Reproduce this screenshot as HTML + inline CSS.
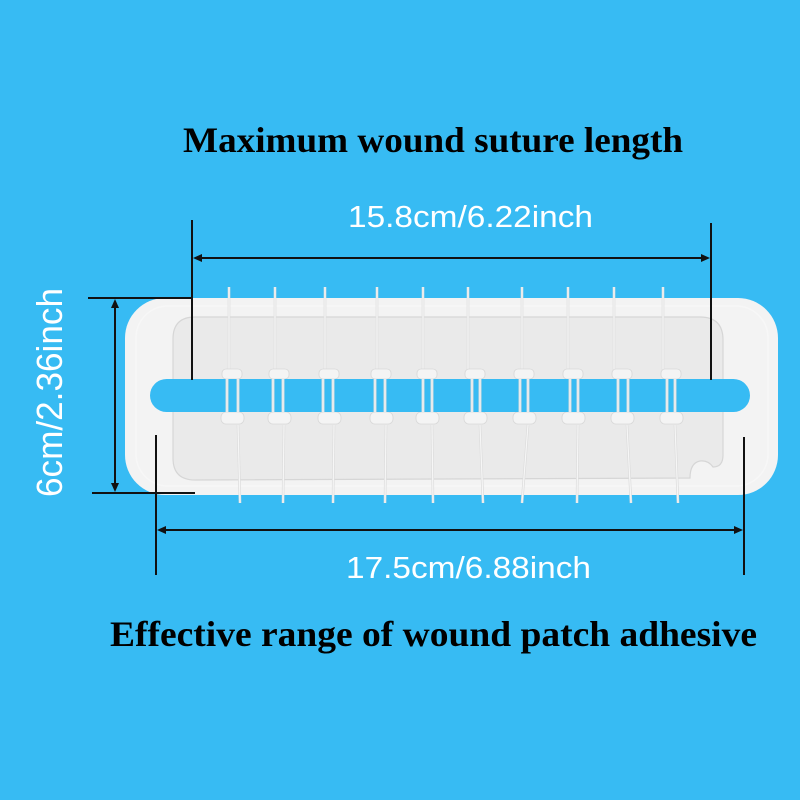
<!DOCTYPE html>
<html><head><meta charset="utf-8"><style>
html,body{margin:0;padding:0;background:#37bbf3;}
svg{display:block;}
</style></head><body>
<svg width="800" height="800" viewBox="0 0 800 800" xmlns="http://www.w3.org/2000/svg">
<rect x="0" y="0" width="800" height="800" fill="#37bbf3"/>

<!-- patch outer -->
<rect x="125" y="298" width="653" height="197" rx="40" ry="40" fill="#f3f3f3"/>
<rect x="136" y="306" width="632" height="180" rx="32" ry="32" fill="none" stroke="#f7f7f7" stroke-width="1.5"/>
<!-- inner pane -->
<path d="M195 317 L700 317 Q723 317 723 340 L723 455 Q723 467 713 467 Q708 460 700 461 Q690 463 690 478 L195 480 Q173 480 173 458 L173 339 Q173 317 195 317 Z" fill="#eaeaea" stroke="#d6d6d6" stroke-width="1.2"/>

<g fill="none">
<g stroke="#dcdcdc" stroke-width="2.6">
<line x1="229" y1="287" x2="229" y2="372"/><line x1="275" y1="287" x2="275" y2="372"/><line x1="325" y1="287" x2="325" y2="372"/><line x1="377" y1="287" x2="377" y2="372"/><line x1="423" y1="287" x2="423" y2="372"/><line x1="468" y1="287" x2="468" y2="372"/><line x1="522" y1="287" x2="522" y2="372"/><line x1="568" y1="287" x2="568" y2="372"/><line x1="614" y1="287" x2="614" y2="372"/><line x1="663" y1="287" x2="663" y2="372"/>
</g>
<g stroke="#f6f6f6" stroke-width="1.2">
<line x1="229" y1="287" x2="229" y2="372"/><line x1="275" y1="287" x2="275" y2="372"/><line x1="325" y1="287" x2="325" y2="372"/><line x1="377" y1="287" x2="377" y2="372"/><line x1="423" y1="287" x2="423" y2="372"/><line x1="468" y1="287" x2="468" y2="372"/><line x1="522" y1="287" x2="522" y2="372"/><line x1="568" y1="287" x2="568" y2="372"/><line x1="614" y1="287" x2="614" y2="372"/><line x1="663" y1="287" x2="663" y2="372"/>
</g>
<g stroke="#dcdcdc" stroke-width="2.6">
<line x1="238" y1="425" x2="240" y2="503"/><line x1="284" y1="425" x2="283" y2="503"/><line x1="334" y1="425" x2="333" y2="503"/><line x1="386" y1="425" x2="385" y2="503"/><line x1="432" y1="425" x2="433" y2="503"/><line x1="480" y1="425" x2="483" y2="503"/><line x1="528" y1="425" x2="522" y2="503"/><line x1="578" y1="425" x2="577" y2="503"/><line x1="627" y1="425" x2="631" y2="503"/><line x1="675" y1="425" x2="678" y2="503"/>
</g>
<g stroke="#f6f6f6" stroke-width="1.2">
<line x1="238" y1="425" x2="240" y2="503"/><line x1="284" y1="425" x2="283" y2="503"/><line x1="334" y1="425" x2="333" y2="503"/><line x1="386" y1="425" x2="385" y2="503"/><line x1="432" y1="425" x2="433" y2="503"/><line x1="480" y1="425" x2="483" y2="503"/><line x1="528" y1="425" x2="522" y2="503"/><line x1="578" y1="425" x2="577" y2="503"/><line x1="627" y1="425" x2="631" y2="503"/><line x1="675" y1="425" x2="678" y2="503"/>
</g>
</g>

<!-- knots -->
<g fill="#f4f4f4" stroke="#d8d8d8" stroke-width="0.8">
<rect x="222" y="369" width="20" height="10" rx="4"/><rect x="221" y="412" width="23" height="12" rx="5"/>
<rect x="269" y="369" width="20" height="10" rx="4"/><rect x="268" y="412" width="23" height="12" rx="5"/>
<rect x="319" y="369" width="20" height="10" rx="4"/><rect x="318" y="412" width="23" height="12" rx="5"/>
<rect x="371" y="369" width="20" height="10" rx="4"/><rect x="370" y="412" width="23" height="12" rx="5"/>
<rect x="417" y="369" width="20" height="10" rx="4"/><rect x="416" y="412" width="23" height="12" rx="5"/>
<rect x="465" y="369" width="20" height="10" rx="4"/><rect x="464" y="412" width="23" height="12" rx="5"/>
<rect x="514" y="369" width="20" height="10" rx="4"/><rect x="513" y="412" width="23" height="12" rx="5"/>
<rect x="563" y="369" width="20" height="10" rx="4"/><rect x="562" y="412" width="23" height="12" rx="5"/>
<rect x="612" y="369" width="20" height="10" rx="4"/><rect x="611" y="412" width="23" height="12" rx="5"/>
<rect x="661" y="369" width="20" height="10" rx="4"/><rect x="660" y="412" width="23" height="12" rx="5"/>
</g>

<!-- slot -->
<rect x="150" y="379" width="600" height="33" rx="16.5" ry="16.5" fill="#37bbf3"/>

<!-- threads across slot -->
<g stroke="#cfd8dc" stroke-width="3">
<line x1="227" y1="379" x2="227" y2="412"/><line x1="238" y1="379" x2="238" y2="412"/>
<line x1="273" y1="379" x2="273" y2="412"/><line x1="283" y1="379" x2="283" y2="412"/>
<line x1="323" y1="379" x2="323" y2="412"/><line x1="333" y1="379" x2="333" y2="412"/>
<line x1="375" y1="379" x2="375" y2="412"/><line x1="385" y1="379" x2="385" y2="412"/>
<line x1="423" y1="379" x2="423" y2="412"/><line x1="432" y1="379" x2="432" y2="412"/>
<line x1="472" y1="379" x2="472" y2="412"/><line x1="480" y1="379" x2="480" y2="412"/>
<line x1="520" y1="379" x2="520" y2="412"/><line x1="528" y1="379" x2="528" y2="412"/>
<line x1="570" y1="379" x2="570" y2="412"/><line x1="578" y1="379" x2="578" y2="412"/>
<line x1="618" y1="379" x2="618" y2="412"/><line x1="628" y1="379" x2="628" y2="412"/>
<line x1="667" y1="379" x2="667" y2="412"/><line x1="675" y1="379" x2="675" y2="412"/>
</g>
<g stroke="#f4f4f4" stroke-width="1.3">
<line x1="227" y1="379" x2="227" y2="412"/><line x1="238" y1="379" x2="238" y2="412"/>
<line x1="273" y1="379" x2="273" y2="412"/><line x1="283" y1="379" x2="283" y2="412"/>
<line x1="323" y1="379" x2="323" y2="412"/><line x1="333" y1="379" x2="333" y2="412"/>
<line x1="375" y1="379" x2="375" y2="412"/><line x1="385" y1="379" x2="385" y2="412"/>
<line x1="423" y1="379" x2="423" y2="412"/><line x1="432" y1="379" x2="432" y2="412"/>
<line x1="472" y1="379" x2="472" y2="412"/><line x1="480" y1="379" x2="480" y2="412"/>
<line x1="520" y1="379" x2="520" y2="412"/><line x1="528" y1="379" x2="528" y2="412"/>
<line x1="570" y1="379" x2="570" y2="412"/><line x1="578" y1="379" x2="578" y2="412"/>
<line x1="618" y1="379" x2="618" y2="412"/><line x1="628" y1="379" x2="628" y2="412"/>
<line x1="667" y1="379" x2="667" y2="412"/><line x1="675" y1="379" x2="675" y2="412"/>
</g>

<!-- dimension lines -->
<g stroke="#111" stroke-width="2" fill="none">
<line x1="192" y1="220" x2="192" y2="380"/>
<line x1="711" y1="223" x2="711" y2="380"/>
<line x1="196" y1="258" x2="707" y2="258"/>
<line x1="88" y1="298" x2="192" y2="298"/>
<line x1="92" y1="493" x2="195" y2="493"/>
<line x1="115" y1="302" x2="115" y2="489"/>
<line x1="156" y1="435" x2="156" y2="575"/>
<line x1="744" y1="437" x2="744" y2="575"/>
<line x1="160" y1="530" x2="740" y2="530"/>
</g>
<g fill="#111">
<polygon points="193,258 202,254 202,262"/>
<polygon points="710,258 701,254 701,262"/>
<polygon points="115,299 111,308 119,308"/>
<polygon points="115,492 111,483 119,483"/>
<polygon points="157,530 166,526 166,534"/>
<polygon points="743,530 734,526 734,534"/>
</g>

<!-- texts -->
<text x="183" y="152" font-family="Liberation Serif, serif" font-weight="bold" font-size="36" fill="#000" textLength="500" lengthAdjust="spacingAndGlyphs">Maximum wound suture length</text>
<text x="348" y="227" font-family="Liberation Sans, sans-serif" font-size="31" fill="#fff" textLength="245" lengthAdjust="spacingAndGlyphs">15.8cm/6.22inch</text>
<text transform="translate(62,497) rotate(-90)" font-family="Liberation Sans, sans-serif" font-size="36" fill="#fff" textLength="209" lengthAdjust="spacingAndGlyphs">6cm/2.36inch</text>
<text x="346" y="578" font-family="Liberation Sans, sans-serif" font-size="31" fill="#fff" textLength="245" lengthAdjust="spacingAndGlyphs">17.5cm/6.88inch</text>
<text x="110" y="646" font-family="Liberation Serif, serif" font-weight="bold" font-size="36" fill="#000" textLength="647" lengthAdjust="spacingAndGlyphs">Effective range of wound patch adhesive</text>
</svg>
</body></html>
